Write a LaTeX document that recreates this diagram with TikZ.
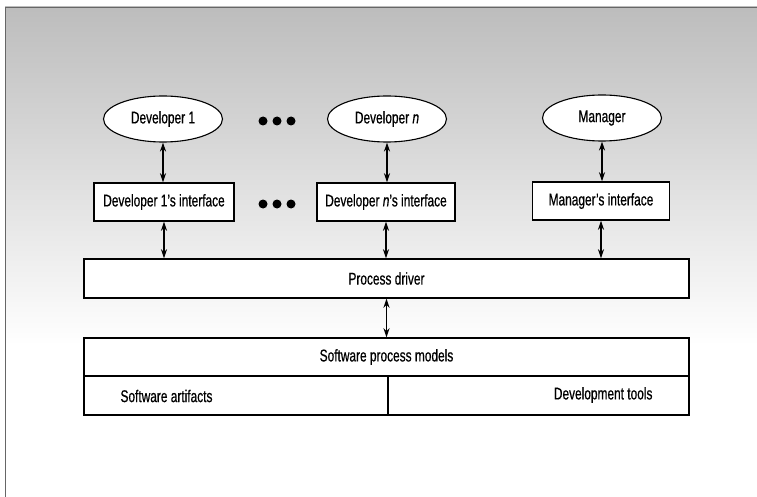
\documentclass[tikz,border=0pt]{standalone}
\usepackage{fontspec}
\setmainfont{Liberation Sans}[FakeStretch=0.7,FakeBold=0.6]
\usetikzlibrary{arrows.meta,shapes.geometric}
\begin{document}
\begin{tikzpicture}[x=1pt,y=-1pt,
  font=\fontsize{17}{19}\selectfont,
  actor/.style={ellipse,draw,line width=1.1pt,fill=white,minimum width=119pt,minimum height=46pt,inner sep=0pt},
  iface/.style={rectangle,draw,line width=1.4pt,fill=white,minimum height=38pt,inner sep=0pt},
  wide/.style={rectangle,draw,line width=1.4pt,fill=white,inner sep=0pt},
  link/.style={line width=1.7pt,{Stealth[length=9pt,width=6pt]}-{Stealth[length=9pt,width=6pt]}},
  bigdot/.style={circle,fill=black,minimum size=9pt,inner sep=0pt}
]
\useasboundingbox (0,0) rectangle (757,497);
\shade[top color=black!26,bottom color=white] (5,7) rectangle (757,345);
\draw[black!60,line width=0.6pt] (5,497) -- (5,7) -- (757,7);

% top row
\node[actor] (d1) at (163,119) {Developer 1};
\node[actor] (dn) at (387,119) {Developer \textit{n}};
\node[actor] (mg) at (602,118) {Manager};

\node[bigdot] (a1) at (263,121) {};
\node[bigdot] (a2) at (277,121) {};
\node[bigdot] (a3) at (291,121) {};

% interfaces
\node[iface,minimum width=140pt] (i1) at (164,202) {Developer 1’s interface};
\node[iface,minimum width=138pt] (in) at (386,202) {Developer \textit{n}’s interface};
\node[iface,minimum width=137pt] (im) at (601,201) {Manager’s interface};

\node[bigdot] (b1) at (263,204) {};
\node[bigdot] (b2) at (277,204) {};
\node[bigdot] (b3) at (291,204) {};

% process driver
\node[wide,minimum width=605pt,minimum height=39pt] (pd) at (386.5,278.5) {Process driver};

% software process models
\node[wide,minimum width=605pt,minimum height=38pt] (spm) at (386.5,357) {Software process models};
\node[wide,minimum width=304pt,minimum height=39pt] (art) at (236,395.5) {};
\node[wide,minimum width=301pt,minimum height=39pt] (tls) at (538.5,395.5) {};
\node[anchor=west] (artl) at (117,396) {Software artifacts};
\node[anchor=east] (tlsl) at (656,395) {Development tools};

% connectors
\draw[link] (d1.south) -- (d1.south |- i1.north);
\draw[link] (dn.south) -- (dn.south |- in.north);
\draw[link] (mg.south) -- (mg.south |- im.north);
\draw[link] (i1.south) -- (i1.south |- pd.north);
\draw[link] (in.south) -- (in.south |- pd.north);
\draw[link] (im.south) -- (im.south |- pd.north);
\draw[link] (pd.south) -- (spm.north);
\end{tikzpicture}
\end{document}
